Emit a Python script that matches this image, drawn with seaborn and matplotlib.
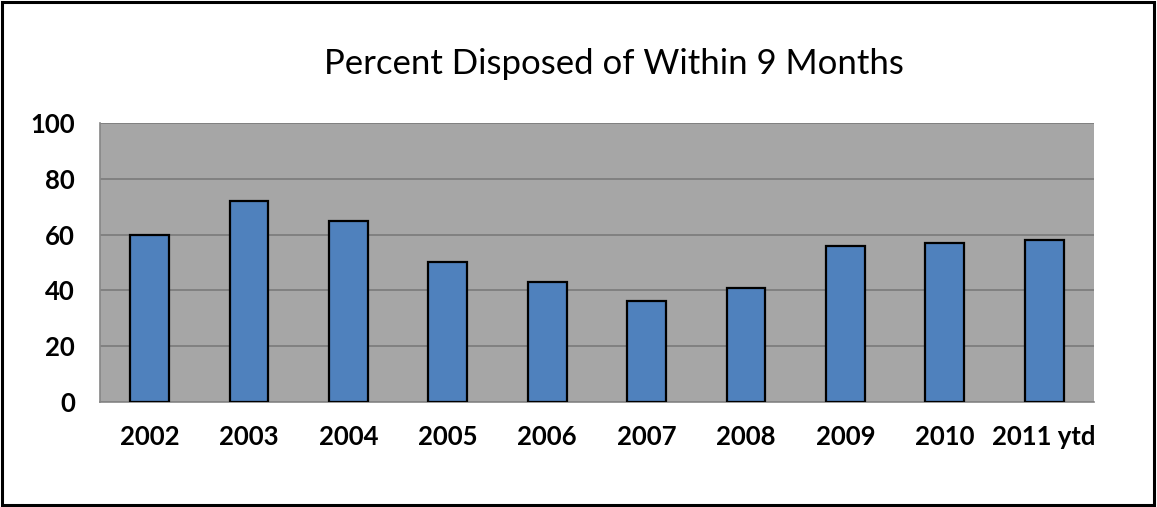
import numpy as np
import pandas as pd
import seaborn as sns
import matplotlib.pyplot as plt
from matplotlib.patches import Rectangle

years = ["2002", "2003", "2004", "2005", "2006", "2007", "2008", "2009", "2010", "2011 ytd"]
percent_disposed = [60, 72, 65, 50, 43, 36, 41, 56, 57, 58]
y_ticks = [0, 20, 40, 60, 80, 100]

df = pd.DataFrame({"year": years, "percent": percent_disposed})

sns.set_theme(style="white")
plt.rcParams["font.family"] = ["Lato", "DejaVu Sans"]

fig = plt.figure(figsize=(11.57, 5.07), dpi=100)
ax = fig.add_axes([0.0864, 0.2077, 0.8591, 0.5491])
ax.set_facecolor("#A6A6A6")

sns.barplot(data=df, x="year", y="percent", color="#4F81BD", saturation=1,
            width=0.39, edgecolor="black", linewidth=1.6, ax=ax, zorder=3)

ax.set_xlim(-0.5, len(years) - 0.5)
ax.set_ylim(0, 100)
ax.set_yticks(y_ticks)
ax.set_yticklabels([str(v) for v in y_ticks], fontsize=18.5, fontweight="bold")
ax.set_xticks(range(len(years)))
ax.set_xticklabels(years, fontsize=18.5, fontweight="bold")
ax.set_xticks(np.arange(-0.5, len(years), 1.0), minor=True)
ax.tick_params(axis="x", which="major", length=0, pad=17, colors="black")
ax.tick_params(axis="x", which="minor", length=8, width=1, colors="#868686")
ax.tick_params(axis="y", length=7, width=1, colors="#868686", labelcolor="black", pad=11)
ax.set_xlabel("")
ax.set_ylabel("")

ax.grid(axis="y", color="#7A7A7A", linewidth=1.2, zorder=1)
ax.set_axisbelow(True)
for side in ["top", "right"]:
    ax.spines[side].set_visible(False)
for side in ["left", "bottom"]:
    ax.spines[side].set_color("#868686")
    ax.spines[side].set_linewidth(1.2)

fig.text(614 / 1157, 1 - 64 / 507, "Percent Disposed of Within 9 Months",
         ha="center", va="center", fontsize=25, color="black")

fig.patches.append(Rectangle((0.002, 0.004), 0.995, 0.992, transform=fig.transFigure,
                             fill=False, edgecolor="black", linewidth=2.2))

fig.savefig("out.png", dpi=100)
